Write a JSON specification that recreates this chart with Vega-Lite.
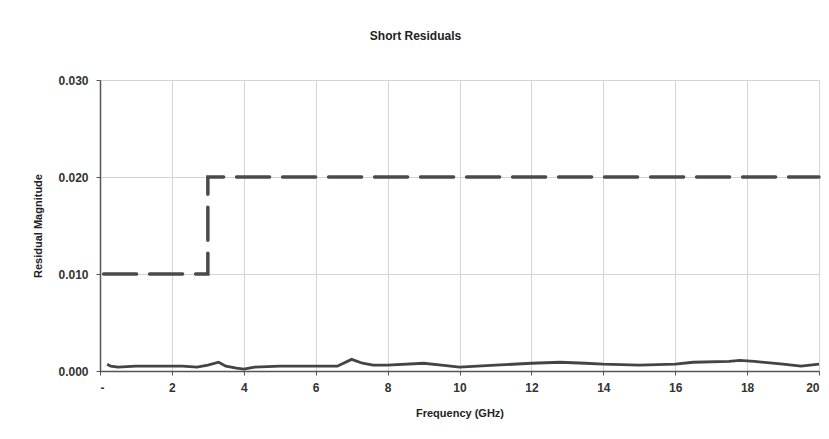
{
  "$schema": "https://vega.github.io/schema/vega-lite/v6.json",
  "autosize": {"type": "none"},
  "width": 719,
  "height": 291,
  "padding": {"left": 100, "top": 80, "right": 10, "bottom": 68},
  "background": "white",
  "title": {"text": "Short Residuals", "font": "Liberation Sans", "fontSize": 12, "fontWeight": "bold", "color": "#222", "anchor": "middle", "dx": -44, "offset": 31},
  "config": {
    "view": {"stroke": null},
    "axis": {"labelFont": "Liberation Sans", "labelFontSize": 12, "labelFontWeight": "bold", "labelColor": "#333", "titleFont": "Liberation Sans", "titleFontSize": 11, "titleFontWeight": "bold", "titleColor": "#222", "gridColor": "#d4d4d4", "gridWidth": 1, "domainColor": "#555", "domainWidth": 1.5, "tickColor": "#555", "tickSize": 4}
  },
  "datasets": {
    "limit": [
      {"freq": 0.1, "mag": 0.01},
      {"freq": 3.0, "mag": 0.01},
      {"freq": 3.0, "mag": 0.02},
      {"freq": 20.0, "mag": 0.02}
    ],
    "residual": [
      {"freq": 0.2, "mag": 0.0007},
      {"freq": 0.3, "mag": 0.0005},
      {"freq": 0.5, "mag": 0.0004},
      {"freq": 1.0, "mag": 0.0005},
      {"freq": 1.5, "mag": 0.0005},
      {"freq": 2.0, "mag": 0.0005},
      {"freq": 2.3, "mag": 0.0005},
      {"freq": 2.7, "mag": 0.0004},
      {"freq": 3.0, "mag": 0.0006},
      {"freq": 3.3, "mag": 0.0009},
      {"freq": 3.5, "mag": 0.0005},
      {"freq": 3.8, "mag": 0.0003},
      {"freq": 4.0, "mag": 0.0002},
      {"freq": 4.3, "mag": 0.0004},
      {"freq": 5.0, "mag": 0.0005},
      {"freq": 6.0, "mag": 0.0005},
      {"freq": 6.6, "mag": 0.0005},
      {"freq": 7.0, "mag": 0.0012},
      {"freq": 7.3, "mag": 0.0008},
      {"freq": 7.6, "mag": 0.0006},
      {"freq": 8.0, "mag": 0.0006},
      {"freq": 9.0, "mag": 0.0008},
      {"freq": 9.5, "mag": 0.0006},
      {"freq": 10.0, "mag": 0.0004},
      {"freq": 10.5, "mag": 0.0005},
      {"freq": 11.0, "mag": 0.0006},
      {"freq": 12.0, "mag": 0.0008},
      {"freq": 12.8, "mag": 0.0009},
      {"freq": 13.5, "mag": 0.0008},
      {"freq": 14.0, "mag": 0.0007},
      {"freq": 15.0, "mag": 0.0006},
      {"freq": 16.0, "mag": 0.0007},
      {"freq": 16.5, "mag": 0.0009},
      {"freq": 17.5, "mag": 0.001},
      {"freq": 17.8, "mag": 0.0011},
      {"freq": 18.2, "mag": 0.001},
      {"freq": 19.0, "mag": 0.0007},
      {"freq": 19.5, "mag": 0.0005},
      {"freq": 20.0, "mag": 0.0007}
    ]
  },
  "encoding": {
    "x": {"field": "freq", "type": "quantitative", "scale": {"domain": [0, 20], "nice": false},
      "axis": {"title": "Frequency (GHz)", "values": [0, 2, 4, 6, 8, 10, 12, 14, 16, 18, 20], "labelExpr": "datum.value == 0 ? '-' : datum.label", "labelPadding": 7, "titlePadding": 14}},
    "y": {"field": "mag", "type": "quantitative", "scale": {"domain": [0, 0.03], "nice": false},
      "axis": {"title": "Residual Magnitude", "values": [0, 0.01, 0.02, 0.03], "format": ".3f", "labelPadding": 8, "titlePadding": 14}}
  },
  "layer": [
    {"data": {"name": "limit"}, "mark": {"type": "line", "color": "#4a4a4a", "strokeWidth": 3.5, "strokeDash": [33, 13], "strokeCap": "round"}},
    {"data": {"name": "residual"}, "mark": {"type": "line", "color": "#444", "strokeWidth": 2.8}}
  ]
}
